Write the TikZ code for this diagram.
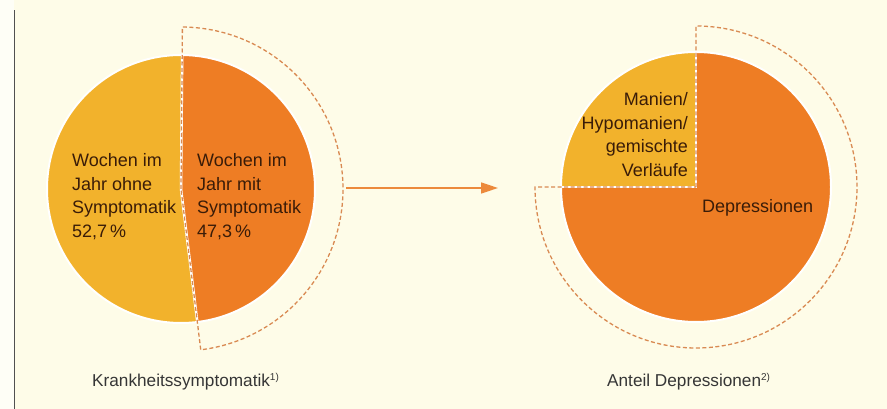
\documentclass[tikz,border=0pt]{standalone}
\usepackage{fontspec}
\setmainfont{Liberation Sans}
\usetikzlibrary{arrows.meta,calc}
\definecolor{bg}{HTML}{FEFCE8}
\definecolor{pieyellow}{HTML}{F2B22C}
\definecolor{pieorange}{HTML}{EE7D24}
\definecolor{dashcol}{HTML}{D98A52}
\definecolor{arrowcol}{HTML}{EC8A3C}
\definecolor{piedark}{HTML}{3A1C08}
\definecolor{labelgray}{HTML}{363636}
\definecolor{edgegray}{HTML}{505050}
\tikzset{
  dashline/.style={draw=dashcol, line width=1.3pt, dash pattern=on 4pt off 2.5pt},
  splitline/.style={draw=white, line width=2.5pt},
  rimline/.style={draw=white, line width=2pt},
  pietext/.style={inner sep=0pt, text=piedark, font=\fontsize{18}{23.5}\selectfont},
  captext/.style={inner sep=0pt, text=labelgray, font=\fontsize{17.2}{20}\selectfont},
  conn/.style={draw=arrowcol, line width=1.7pt, -{Triangle[length=17pt,width=11pt]}}
}
\newcommand{\supnote}[1]{\raisebox{6pt}{\fontsize{10}{10}\selectfont #1}}
\begin{document}
\begin{tikzpicture}[x=1pt,y=1pt]
\useasboundingbox (0,0) rectangle (887,409);
\fill[bg] (0,0) rectangle (887,409);
\fill[white!60!bg] (0,0) rectangle (14,409);
\draw[edgegray, line width=1.6pt] (14.5,0) -- (14.5,399);

% left pie
\coordinate (lc) at (181,220);
\fill[pieyellow] (lc) -- ++(89.5:134) arc[start angle=89.5, end angle=277, radius=134] -- cycle;
\fill[pieorange] (lc) -- ++(89.5:134) arc[start angle=89.5, end angle=-83, radius=134] -- cycle;
\draw[rimline] (lc) circle[radius=134];
\draw[splitline] ($(lc)+(89.5:134)$) -- (lc) -- ($(lc)+(-83:134)$);
\draw[dashline] (lc) -- ++(89.5:162) arc[start angle=89.5, end angle=-83, radius=162] -- cycle;

% right pie
\coordinate (rc) at (696,222);
\fill[pieorange] (rc) -- ++(90:135) arc[start angle=90, end angle=-180, radius=135] -- cycle;
\fill[pieyellow] (rc) -- ++(90:135) arc[start angle=90, end angle=180, radius=135] -- cycle;
\draw[rimline] (rc) circle[radius=135];
\draw[splitline] ($(rc)+(90:135)$) -- (rc) -- ($(rc)+(180:135)$);
\draw[dashline] (rc) -- ++(90:161) arc[start angle=90, end angle=-180, radius=161] -- cycle;

% texts in pies
\node[pietext, anchor=base west] (ohne) at (72,242)
  {\begin{tabular}[t]{@{}l@{}}Wochen im\\Jahr ohne\\Symptomatik\\52,7\,\%\end{tabular}};
\node[pietext, anchor=base west] (mit) at (197,242)
  {\begin{tabular}[t]{@{}l@{}}Wochen im\\Jahr mit\\Symptomatik\\47,3\,\%\end{tabular}};
\node[pietext, anchor=base east] (manien) at (688,303)
  {\begin{tabular}[t]{@{}r@{}}Manien/\\Hypomanien/\\gemischte\\Verläufe\end{tabular}};
\node[pietext, anchor=base west] (depr) at (702,196) {Depressionen};

% captions
\node[captext, anchor=base west] (cap1) at (92,22) {Krankheitssymptomatik\supnote{1)}};
\node[captext, anchor=base west] (cap2) at (607,22) {Anteil Depressionen\supnote{2)}};

% arrow
\coordinate (arrA) at (346,221);
\coordinate (arrB) at (498,221);
\draw[conn] (arrA) -- (arrB);
\end{tikzpicture}
\end{document}
